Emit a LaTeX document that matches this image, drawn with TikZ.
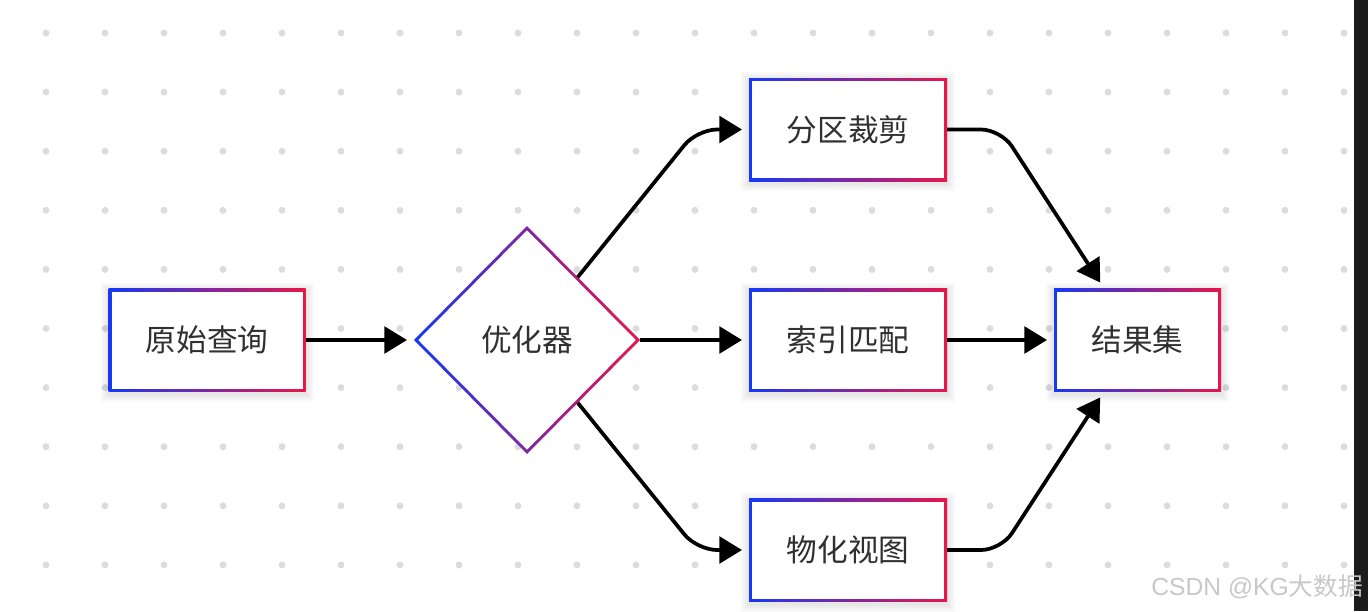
\documentclass[tikz,border=0pt]{standalone}
\usepackage{fontspec}
\setmainfont{Noto Sans CJK SC}
\newfontfamily\wmlatin{Liberation Sans}
\usetikzlibrary{arrows.meta,shapes.geometric,calc}
\definecolor{gblue}{HTML}{1638F5}
\definecolor{gred}{HTML}{E8164B}
\definecolor{txt}{HTML}{303030}
\definecolor{dotc}{HTML}{DCDCDC}
\definecolor{stripc}{HTML}{1C1C1C}
\definecolor{wmc}{HTML}{C8C8C8}
\pgfdeclarelayer{bg}
\pgfdeclarelayer{shad}
\pgfsetlayers{bg,shad,main}
\tikzset{
  gbox/.style={rectangle, inner sep=0pt, outer sep=0pt, minimum width=#1,
    minimum height=77.25pt, fill=white, text=txt,
    font=\fontsize{23pt}{27pt}\selectfont,
    path picture={
      \shade[left color=gblue, right color=gred]
        (path picture bounding box.south west) rectangle (path picture bounding box.north east);
      \fill[white]
        ([shift={(2.25pt,2.25pt)}]path picture bounding box.south west) rectangle
        ([shift={(-2.25pt,-2.25pt)}]path picture bounding box.north east);
    }},
  gbox/.default=148.5pt,
  gdiam/.style={diamond, aspect=1, inner sep=0pt, outer sep=0pt,
    minimum width=169.5pt, minimum height=171pt, fill=white, text=txt,
    font=\fontsize{23pt}{27pt}\selectfont,
    path picture={
      \shade[left color=gblue, right color=gred]
        (path picture bounding box.south west) rectangle (path picture bounding box.north east);
      \fill[white]
        ([xshift=3.2pt]path picture bounding box.west) --
        ([yshift=-3.2pt]path picture bounding box.north) --
        ([xshift=-3.2pt]path picture bounding box.east) --
        ([yshift=3.2pt]path picture bounding box.south) -- cycle;
    }},
  conn/.style={line width=2.8pt, -{Triangle[length=17pt,width=20pt]},
    shorten >=5.25pt, rounded corners=15pt},
  dotstyle/.style={fill=dotc},
  shadowfill/.style={fill=black, opacity=0.022},
}
\begin{document}
\begin{tikzpicture}[x=0.75pt,y=-0.75pt]
\useasboundingbox (0,0) rectangle (1368,611);
% nodes
\node[gbox=147.75pt] (A) at (207,340) {原始查询};
\node[gdiam] (O) at (527,340) {优化器};
\node[gbox] (B) at (848,129.5) {分区裁剪};
\node[gbox] (C) at (848,340) {索引匹配};
\node[gbox] (D) at (848,550) {物化视图};
\node[gbox=125.25pt] (E) at (1137.5,340) {结果集};
\begin{pgfonlayer}{bg}
  \fill[white] (0,0) rectangle (1368,611);
  \foreach \i in {0,...,22}{
    \foreach \j in {0,...,9}{
      \fill[dotstyle] ({46+59*\i},{33+59.1*\j}) circle[radius=2.6pt];
    }
  }
\end{pgfonlayer}
\begin{pgfonlayer}{shad}
  \foreach \n in {A,B,C,D,E}{
    \foreach \s in {2,4,6,8}{
      \fill[shadowfill] ($(\n.south west)+(-\s,\s+2)$) rectangle ($(\n.north east)+(\s,-\s+2)$);
    }
  }
\end{pgfonlayer}
% bend points
\coordinate (c1) at ($(B.west)+(-52,0)$);
\coordinate (c2) at ($(D.west)+(-52,0)$);
\coordinate (c3) at ($(B.east)+(54,0)$);
\coordinate (c4) at ($(D.east)+(54,0)$);
% connectors
\draw[conn] (A) -- (O);
\draw[conn] (O) -- (c1) -- (B);
\draw[conn] (O) -- (C);
\draw[conn] (O) -- (c2) -- (D);
\draw[conn] (B) -- (c3) -- (E);
\draw[conn] (C) -- (E);
\draw[conn] (D) -- (c4) -- (E);
% right dark strip
\fill[stripc] (1354,0) rectangle (1368,611);
% watermark
\node[text=wmc, font=\fontsize{18.5pt}{21pt}\selectfont, anchor=east, inner sep=0pt] (wm) at (1363,587) {{\wmlatin CSDN @KG}大数据};
\end{tikzpicture}
\end{document}
